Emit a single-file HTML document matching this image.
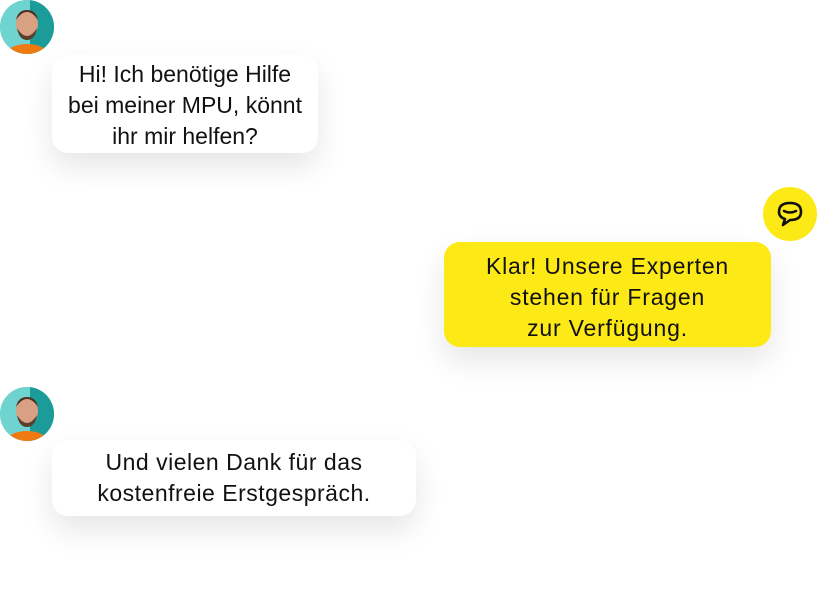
<!DOCTYPE html>
<html><head><style>
body{margin:0;width:821px;height:592px;background:#fff;position:relative;overflow:hidden;font-family:"Liberation Sans",sans-serif;}
.b{position:absolute;border-radius:16px;box-sizing:border-box;text-align:center;font-size:23px;line-height:31px;color:#111;box-shadow:0 14px 30px rgba(0,0,0,0.10);white-space:nowrap}
.w{background:#fff}
.y{background:#fde916}
.av{position:absolute;width:54px;height:54px;border-radius:50%;overflow:hidden;background:#5ecfcc}
</style></head><body>
<div class="av" style="left:0;top:0">
<svg width="54" height="54"><rect width="54" height="54" fill="#6fd3cf"/><path d="M30 0h24v54H30z" fill="#1b9c98"/><ellipse cx="27" cy="56" rx="22" ry="12" fill="#f07a12"/><ellipse cx="27" cy="24" rx="11" ry="14" fill="#d9a184"/><path d="M16 20q11-16 22 0q-2-10-11-10t-11 10z" fill="#4a3424"/><path d="M17 28q10 16 20 0q-2 12-10 12t-10-12z" fill="#5a3f2e"/></svg></div>
<div class="b w" style="left:52px;top:55px;width:266px;height:98px;padding-top:4px">Hi! Ich benötige Hilfe<br>bei meiner MPU, könnt<br>ihr mir helfen?</div>
<div style="position:absolute;left:763px;top:187px;width:54px;height:54px;border-radius:50%;background:#fde916">
<svg width="54" height="54"><path d="M16 25q0-9 11-9t11 9q0 8-11 8l-7 5 2-6q-6-2-6-7z" fill="none" stroke="#111" stroke-width="2.6" stroke-linejoin="round"/><path d="M21 24q6 3 12 0" stroke="#111" stroke-width="2.6" fill="none" stroke-linecap="round"/></svg></div>
<div class="b y" style="left:444px;top:242px;width:327px;height:105px;padding-top:9px;letter-spacing:0.8px">Klar! Unsere Experten<br>stehen für Fragen<br>zur Verfügung.</div>
<div class="av" style="left:0;top:387px">
<svg width="54" height="54"><rect width="54" height="54" fill="#6fd3cf"/><path d="M30 0h24v54H30z" fill="#1b9c98"/><ellipse cx="27" cy="56" rx="22" ry="12" fill="#f07a12"/><ellipse cx="27" cy="24" rx="11" ry="14" fill="#d9a184"/><path d="M16 20q11-16 22 0q-2-10-11-10t-11 10z" fill="#4a3424"/><path d="M17 28q10 16 20 0q-2 12-10 12t-10-12z" fill="#5a3f2e"/></svg></div>
<div class="b w" style="left:52px;top:440px;width:364px;height:76px;padding-top:7px;letter-spacing:0.5px">Und vielen Dank für das<br>kostenfreie Erstgespräch.</div>
</body></html>
